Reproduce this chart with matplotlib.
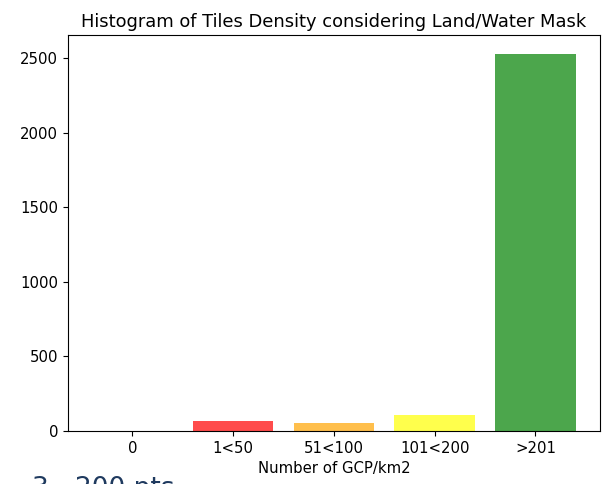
import matplotlib
matplotlib.use("Agg")
import matplotlib.pyplot as plt

categories = ["0", "1<50", "51<100", "101<200", ">201"]
counts = [0, 67, 52, 107, 2528]
colors = ["blue", "red", "orange", "yellow", "green"]

plt.rcParams["font.size"] = 10.7

fig = plt.figure(figsize=(6.06, 4.84), dpi=100)
ax = fig.add_axes([0.112, 0.1095, 0.878, 0.818])

ax.bar(categories, counts, color=colors, alpha=0.7)
ax.set_title("Histogram of Tiles Density considering Land/Water Mask", fontsize=12.9)
ax.set_xlabel("Number of GCP/km2")

# slide caption sitting under the chart, cut at the bottom edge
fig.text(0.053, 0.016, "3 - 200 pts", fontsize=19, color="#1f3a5f", va="top")

fig.savefig("out.png", dpi=100)
